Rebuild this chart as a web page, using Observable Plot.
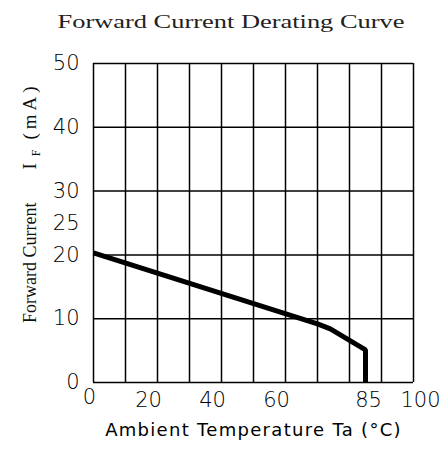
<!DOCTYPE html>
<html>
<head>
<meta charset="utf-8">
<script src="https://cdn.jsdelivr.net/npm/d3@7"></script>
<script src="https://cdn.jsdelivr.net/npm/@observablehq/plot@0.6"></script>
<style>
  body { margin: 0; background: #fff; }
  #title { height: 40px; }
  #title svg, #chart svg { display: block; }
</style>
</head>
<body>
<div id="title">
  <svg width="442" height="40">
    <text x="231" y="28" text-anchor="middle" font-family="Liberation Serif" font-size="19" textLength="347" lengthAdjust="spacingAndGlyphs" fill="#222">Forward Current Derating Curve</text>
  </svg>
</div>
<div id="chart"></div>
<script>
// Derating curve points (Ambient temperature °C, Forward current mA)
const temperature = [0, 70, 74, 85, 85];
const current = [20.3, 9.2, 8.4, 5.1, 0];

// Tick labels and grid values
const xTicksA = [0];
const xTicksB = [20, 40, 60];
const xTicksC = [85];
const xTicksD = [100];
const yTicks = [0, 10, 20, 25, 30, 40, 50];
const xGrid = [0, 10, 20, 30, 40, 50, 60, 70, 80, 90, 100];
const yGrid = [0, 10, 20, 30, 40, 50];

const xTitle = "Ambient Temperature Ta (°C)";

const points = temperature.map((t, i) => ({t, c: current[i]}));

const tickFont = {tickSize: 0, tickPadding: 10, fontSize: 21, fontFamily: "DejaVu Sans", fontWeight: 300, label: null};

const chart = Plot.plot({
  width: 442,
  height: 410,
  marginTop: 23,
  marginBottom: 68,
  marginLeft: 93,
  marginRight: 29,
  style: {background: "#fff", color: "#000"},
  x: {domain: [0, 100]},
  y: {domain: [0, 50]},
  marks: [
    Plot.ruleX(xGrid, {stroke: "#000", strokeWidth: 1.5}),
    Plot.ruleY(yGrid, {stroke: "#000", strokeWidth: 1.5}),
    Plot.line(points, {x: "t", y: "c", stroke: "#000", strokeWidth: 5, strokeLinejoin: "miter", strokeLinecap: "butt"}),
    Plot.axisX({...tickFont, ticks: xTicksA, dx: -4, dy: -3}),
    Plot.axisX({...tickFont, ticks: xTicksB, dx: -9}),
    Plot.axisX({...tickFont, ticks: xTicksC, dx: 3}),
    Plot.axisX({...tickFont, ticks: xTicksD, dx: 7}),
    Plot.axisY({...tickFont, ticks: yTicks, tickPadding: 14}),
    Plot.text([xTitle], {text: d => d, frameAnchor: "bottom", dy: 53, fontSize: 18, fontFamily: "DejaVu Sans", fill: "#000"})
  ]
});

document.getElementById("chart").append(chart);

// letter spacing for the x title
d3.select(chart).selectAll("text").filter(function() { return this.textContent === xTitle; })
  .style("letter-spacing", "1.3px");

// Y axis title with subscript F
const svg = d3.select(chart);
const yt = svg.append("text")
  .attr("transform", "translate(36,283) rotate(-90)")
  .attr("text-anchor", "start")
  .attr("font-family", "Liberation Serif")
  .attr("font-size", 18)
  .attr("fill", "#111");
yt.append("tspan").text("Forward Current");
yt.append("tspan").attr("dx", 33).attr("font-size", 19).text("I");
yt.append("tspan").attr("font-size", 12).attr("dy", 4).attr("dx", 7).text("F");
yt.append("tspan").attr("font-size", 19).attr("dy", -4).attr("dx", 10).style("letter-spacing", "4px").text("(mA)");
</script>
</body>
</html>
